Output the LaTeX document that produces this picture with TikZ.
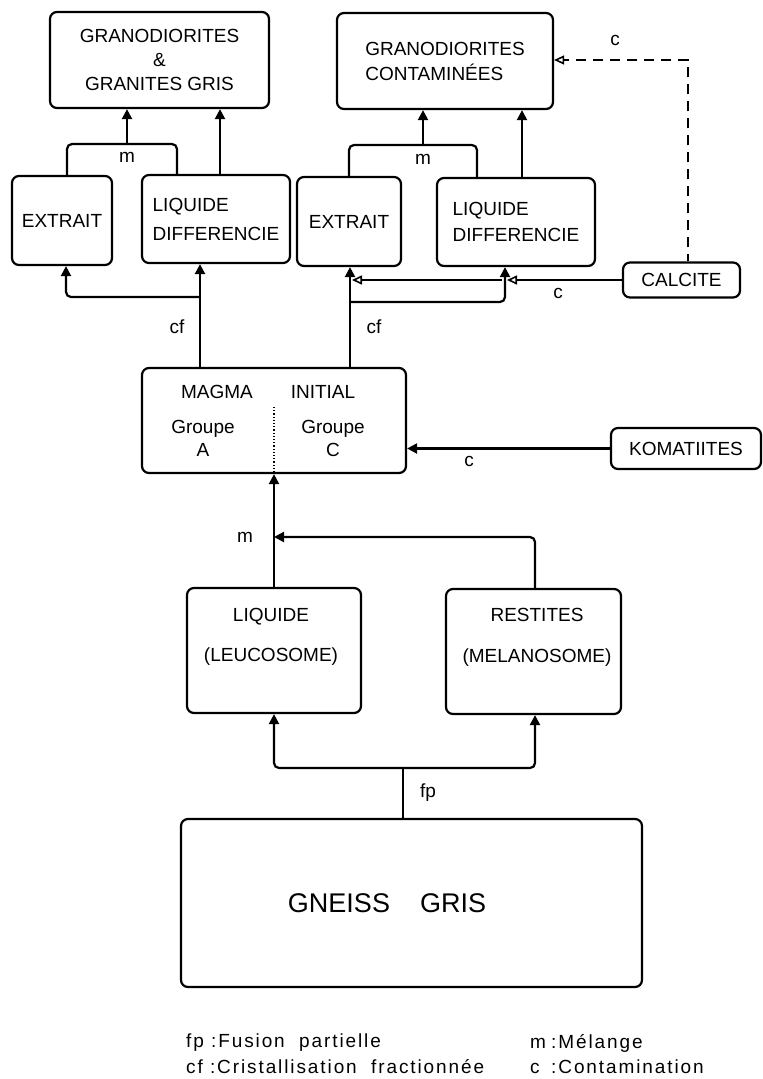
\documentclass[tikz,border=0pt]{standalone}
\usepackage{fontspec}
\setmainfont{Liberation Sans}
\usetikzlibrary{arrows.meta}
\begin{document}
\begin{tikzpicture}[x=1pt,y=-1pt,
  box/.style={draw, line width=2.2pt, rounded corners=7pt, inner sep=0pt, align=center, font=\fontsize{19}{24}\selectfont},
  txt/.style={inner sep=0pt, align=center, font=\fontsize{19}{24}\selectfont},
  ln/.style={line width=2.2pt, rounded corners=5pt},
  arr/.style={ln, -{Triangle[length=10pt,width=10pt]}},
  oarr/.style={ln, -{Triangle[open,length=10pt,width=9pt,line width=1.6pt]}},
  lbl/.style={inner sep=0pt, font=\fontsize{19}{22}\selectfont},
  leg/.style={inner sep=0pt, anchor=west, font=\fontsize{19}{22}\selectfont\addfontfeature{LetterSpace=10}},
]
\useasboundingbox (0,0) rectangle (763,1079);

% boxes
\node[box, minimum width=219pt, minimum height=96pt] (g1) at (159.5,60) {GRANODIORITES\\\&\\GRANITES GRIS};
\node[box, minimum width=216pt, minimum height=96pt, align=left, font=\fontsize{19}{25}\selectfont] (g2) at (445,61) {GRANODIORITES\\CONTAMINÉES};
\node[box, minimum width=100pt, minimum height=89pt] (e1) at (62,220.5) {EXTRAIT};
\node[box, minimum width=148pt, minimum height=88pt, align=left, font=\fontsize{19}{29}\selectfont] (l1) at (216,219) {LIQUIDE\\DIFFERENCIE};
\node[box, minimum width=104pt, minimum height=89pt] (e2) at (349,221.5) {EXTRAIT};
\node[box, minimum width=158pt, minimum height=88pt, align=left, font=\fontsize{19}{26}\selectfont] (l2) at (516,222) {LIQUIDE\\DIFFERENCIE};
\node[box, minimum width=117pt, minimum height=35pt] (cal) at (681.5,280) {CALCITE};
\node[box, minimum width=264pt, minimum height=105pt] (mag) at (274,420.5) {};
\node[box, minimum width=150pt, minimum height=41pt] (kom) at (686,448.5) {KOMATIITES};
\node[box, minimum width=174pt, minimum height=125pt] (liq) at (274,650.5) {};
\node[box, minimum width=175pt, minimum height=125pt] (res) at (533.5,651.5) {};
\node[box, minimum width=461pt, minimum height=168pt] (gn) at (411.5,903) {};

% texts inside boxes
\node[txt] (magt1) at (217,392) {MAGMA};
\node[txt] (magt2) at (323,392) {INITIAL};
\node[txt, font=\fontsize{19}{23}\selectfont] (maga) at (203,438) {Groupe\\A};
\node[txt, font=\fontsize{19}{23}\selectfont] (magc) at (333,438) {Groupe\\C};
\node[txt, font=\fontsize{19}{40}\selectfont] (liqt) at (271,637) {LIQUIDE\\(LEUCOSOME)};
\node[txt, font=\fontsize{19}{41}\selectfont] (rest) at (537,637.5) {RESTITES\\(MELANOSOME)};
\node[txt, font=\fontsize{27}{30}\selectfont] (gnt) at (387,903) {GNEISS\hspace{30pt}GRIS};

% dotted separator in magma box
\coordinate (dtop) at (274,407);
\draw[line width=1.2pt, dotted] (dtop) -- (dtop |- mag.south);

% junction coordinates
\coordinate (m1) at (127,144);
\coordinate (m2) at (423,145);
\coordinate (cf1) at (200,297);
\coordinate (cf2) at (350,302);
\coordinate (cr) at (505,302);
\coordinate (mm) at (274,537);
\coordinate (fpj) at (403,768);
\coordinate (dc) at (688,60);

% top left
\draw[ln] ([xshift=5pt]e1.north) |- (m1) -| ([xshift=-39pt]l1.north);
\draw[arr] (m1) -- (m1 |- g1.south);
\draw[arr] ([xshift=4pt]l1.north) -- ([xshift=60.5pt]g1.south);
\node[lbl] (lm1) at (127,157) {m};
\draw[arr] ([xshift=-74pt]mag.north) -- ([xshift=-16pt]l1.south);
\draw[arr] (cf1) -| ([xshift=4pt]e1.south);
\node[lbl] (lcf1) at (177,327) {cf};

% top right
\draw[ln] (e2.north) |- (m2) -| ([xshift=-39pt]l2.north);
\draw[arr] (m2) -- (m2 |- g2.south);
\draw[arr] ([xshift=6pt]l2.north) -- ([xshift=77pt]g2.south);
\node[lbl] (lm2) at (423,159) {m};
\draw[arr] ([xshift=76pt]mag.north) -- ([xshift=1pt]e2.south);
\draw[arr] ([xshift=76pt]mag.north |- cf2) -| (cr |- l2.south);
\node[lbl] (lcf2) at (374,327) {cf};

% calcite contamination
\coordinate (cv) at (cr |- cal.west);
\draw[oarr] (cal.west) -- ([xshift=2pt]cv);
\draw[oarr] ([xshift=-3pt]cv) -- ([xshift=3pt]cv -| e2.south);
\node[lbl] (lc1) at (558,293) {c};
\draw[oarr, dash pattern=on 10pt off 7pt, rounded corners=0pt, dash phase=3pt] ([xshift=6.5pt]cal.north) |- (dc) -- (dc -| g2.east);
\node[lbl] (lc2) at (615,40) {c};

% komatiites
\draw[arr] (kom.west) -- (kom.west -| mag.east);
\node[lbl] (lc3) at (469,461) {c};

% melange to magma
\draw[arr] (liq.north) -- (mag.south);
\draw[arr] ([xshift=1.5pt]res.north) |- (mm);
\node[lbl] (lm3) at (245,537) {m};

% fusion partielle
\draw[ln] ([xshift=-8.5pt]gn.north) -- (fpj);
\draw[arr] (fpj) -| (liq.south);
\draw[arr] (fpj) -| ([xshift=1.5pt]res.south);
\node[lbl] (lfp) at (428,793) {fp};

% legend
\node[leg] (lg1) at (186,1043) {fp :Fusion\ \ partielle};
\node[leg] (lg2) at (186,1067) {cf :Cristallisation\ \ fractionnée};
\node[leg] (lg3) at (530,1043) {\makebox[21pt][l]{m}:Mélange};
\node[leg] (lg4) at (530,1067) {\makebox[21pt][l]{c}:Contamination};
\end{tikzpicture}
\end{document}
